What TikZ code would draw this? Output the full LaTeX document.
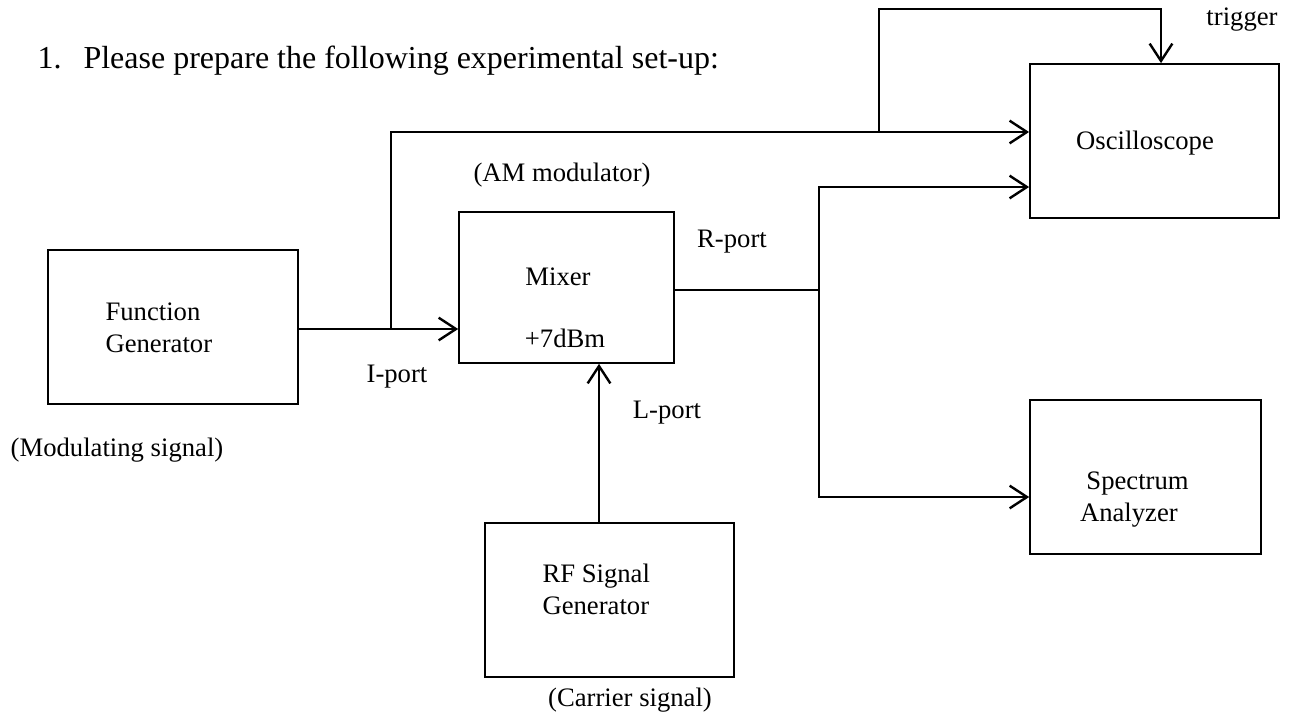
\documentclass[tikz,border=0pt]{standalone}
\usepackage{fontspec}
\setmainfont{Liberation Serif}
\usepackage{tikz}
\usetikzlibrary{arrows.meta,positioning,calc}
\tikzset{
  blk/.style={draw=black, line width=0.65pt, minimum height=57.75pt,
        inner sep=0pt},
  txt/.style={font=\fontsize{10}{12}\selectfont, inner sep=0pt},
  wire/.style={draw=black, line width=0.9pt},
  arr/.style={-{Straight Barb[length=6.5pt,width=8.5pt,line width=0.9pt]}}
}

\begin{document}
\begin{tikzpicture}[x=0.375pt, y=-0.375pt,
  head/.style={font=\fontsize{12}{14}\selectfont, inner sep=0pt, anchor=base west}
]
\useasboundingbox (0,0) rectangle (1290,722);

\node[head] (title) at (37,68) {1.\hspace{8.25pt}Please prepare the following experimental set-up:};

\node[blk, minimum width=93.75pt] (fgen) at (173,327) {};
\node[blk, minimum width=80.6pt, minimum height=56.6pt] (mixer) at (566.5,287.5) {};
\node[blk, minimum width=93.4pt] (rfgen) at (609.5,600) {};
\node[blk, minimum width=93.4pt] (osc) at (1154.5,141) {};
\node[blk, minimum width=86.6pt] (spec) at (1145.5,477) {};

\node[txt, align=left, anchor=west] (fgentxt) at (105,328) {Function\\Generator};
\node[txt] (mixtxt) at (558,277) {Mixer};
\node[txt] (dbmtxt) at (565,338) {+7dBm};
\node[txt, align=left, anchor=west] (rftxt) at (542,589) {RF Signal\\Generator};
\node[txt] (osctxt) at (1145,143) {Oscilloscope};
\node[txt, align=left, anchor=west] (spectxt) at (1079.5,499.5) {\hspace*{2.4pt}Spectrum\\Analyzer};

\node[txt] (amlab) at (562,175) {(AM modulator)};
\node[txt] (rlab) at (732,242) {R-port};
\node[txt] (ilab) at (397,377) {I-port};
\node[txt] (llab) at (667,413) {L-port};
\node[txt] (modlab) at (117,450) {(Modulating signal)};
\node[txt] (carlab) at (630,700) {(Carrier signal)};
\node[txt] (triglab) at (1242,20) {trigger};

\coordinate (jI) at (391,329);
\coordinate (jS) at (879,132);
\coordinate (trig) at (1161,9);
\coordinate (jR) at (819,290);
\coordinate (oIn) at (819,187);
\coordinate (sIn) at (819,497);
\coordinate (lIn) at (599,523);

\draw[wire] (fgen.east |- jI) -- (jI);
\draw[wire, arr] (jI) -- (mixer.west |- jI);
\draw[wire, arr] (jI) |- (osc.west |- jS);
\draw[wire, arr] (jS) |- (trig) -- (trig |- osc.north);
\draw[wire] (mixer.east |- jR) -- (jR);
\draw[wire, arr] (jR) |- (osc.west |- oIn);
\draw[wire, arr] (jR) |- (spec.west |- sIn);
\draw[wire, arr] (rfgen.north -| lIn) -- (mixer.south -| lIn);
\end{tikzpicture}
\end{document}
